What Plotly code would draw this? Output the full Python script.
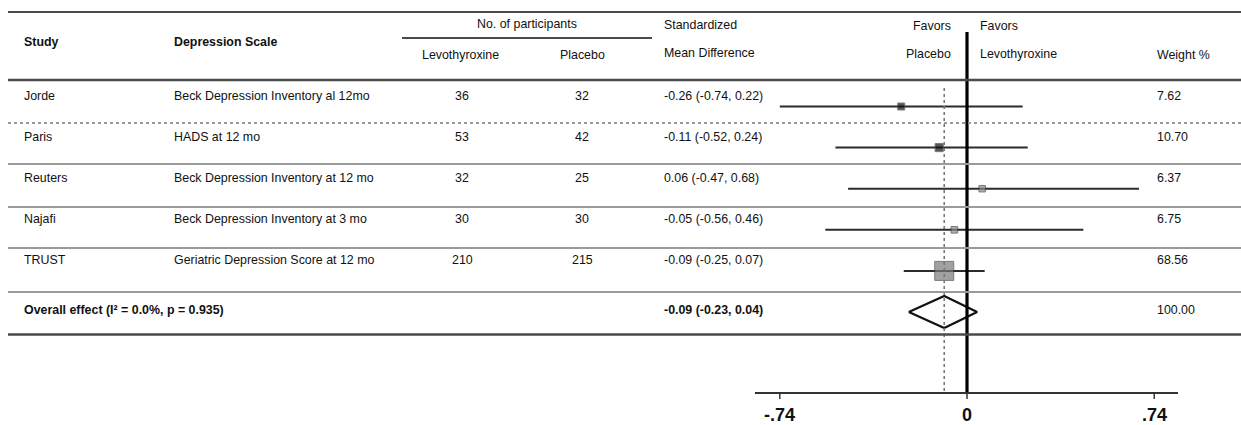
import plotly.graph_objects as go

# ---- study data ----
studies = ["Jorde", "Paris", "Reuters", "Najafi", "TRUST"]
scales = [
    "Beck Depression Inventory al 12mo",
    "HADS at 12 mo",
    "Beck Depression Inventory at 12 mo",
    "Beck Depression Inventory at 3 mo",
    "Geriatric Depression Score at 12 mo",
]
n_levo = [36, 53, 32, 30, 210]
n_placebo = [32, 42, 25, 30, 215]
smd = [-0.26, -0.11, 0.06, -0.05, -0.09]
ci_low = [-0.74, -0.52, -0.47, -0.56, -0.25]
ci_high = [0.22, 0.24, 0.68, 0.46, 0.07]
weights = [7.62, 10.70, 6.37, 6.75, 68.56]
marker_colors = ["#111111", "#111111", "#8a8a8a", "#8a8a8a", "#7a7a7a"]

overall_label = "Overall effect (I² = 0.0%, p = 0.935)"
overall_smd = -0.09
overall_low = -0.23
overall_high = 0.04
overall_weight = 100.00

tick_vals = [-0.74, 0, 0.74]
tick_text = ["-.74", "0", ".74"]

# ---- page geometry ----
W, H = 1241, 425
X0_PX = 967.0          # pixel column of the null line
PX_PER_UNIT = 253.0    # horizontal scale of the effect axis
x_lo = -X0_PX / PX_PER_UNIT
x_hi = (W - X0_PX) / PX_PER_UNIT

ROW0 = 106.5           # vertical centre of first study row (pixels from top)
ROW_STEP = 41.1
def row_y(i):
    return ROW0 + ROW_STEP * i

def px(x):
    return x / W

FONT = "Liberation Sans, Arial, sans-serif"
TXT = "#111111"
FS = 12.4

fig = go.Figure()

# confidence intervals
for i in range(len(studies)):
    fig.add_trace(go.Scatter(
        x=[ci_low[i], ci_high[i]], y=[row_y(i), row_y(i)],
        mode="lines", line=dict(color="#2b2b2b", width=2),
        hoverinfo="skip", showlegend=False))

# point estimates, box size scaled by weight
max_w = max(weights)
sizes = [18 * (w / max_w) ** 0.5 + 1 for w in weights]
fig.add_trace(go.Scatter(
    x=smd, y=[row_y(i) for i in range(len(studies))],
    mode="markers",
    marker=dict(symbol="square", size=sizes, color=marker_colors,
                line=dict(color="#444444", width=1)),
    hoverinfo="skip", showlegend=False))

# pooled diamond
yo = row_y(len(studies))
half_h = 16
fig.add_trace(go.Scatter(
    x=[overall_low, overall_smd, overall_high, overall_smd, overall_low],
    y=[yo, yo - half_h, yo, yo + half_h, yo],
    mode="lines", line=dict(color="#111111", width=2.2),
    hoverinfo="skip", showlegend=False))

# pooled estimate reference line
fig.add_trace(go.Scatter(
    x=[overall_smd, overall_smd], y=[88, 393],
    mode="lines", line=dict(color="#777777", width=1.6, dash="dot"),
    hoverinfo="skip", showlegend=False))

# null line
fig.add_trace(go.Scatter(
    x=[0, 0], y=[32, 393],
    mode="lines", line=dict(color="#000000", width=3.2),
    hoverinfo="skip", showlegend=False))

# effect axis with ticks
fig.add_trace(go.Scatter(
    x=[x_lo + 755 / PX_PER_UNIT, x_lo + 1178 / PX_PER_UNIT], y=[393, 393],
    mode="lines", line=dict(color="#333333", width=2),
    hoverinfo="skip", showlegend=False))
for tv in tick_vals:
    fig.add_trace(go.Scatter(
        x=[tv, tv], y=[393, 399],
        mode="lines", line=dict(color="#333333", width=1.5),
        hoverinfo="skip", showlegend=False))

shapes = []
def hline(y, x0, x1, color, width, dash="solid"):
    shapes.append(dict(type="line", xref="paper", yref="y",
                       x0=px(x0), x1=px(x1), y0=y, y1=y,
                       line=dict(color=color, width=width, dash=dash)))

# table rules
hline(12, 8, W, "#4a4a4a", 2.2)
hline(38, 402, 652, "#4a4a4a", 2)
hline(80, 8, W, "#4a4a4a", 2.5)
sep_y = [123, 164, 207, 248, 292]
for k, sy in enumerate(sep_y):
    if k == 0:
        hline(sy, 8, W, "#9a9a9a", 1.8, "dot")
    else:
        hline(sy, 8, W, "#9a9a9a", 1.8)
hline(334.5, 8, W, "#4a4a4a", 2.5)

ann = []
def text(x, y, s, anchor="left", size=FS, bold=False, color=TXT):
    ann.append(dict(xref="paper", yref="y", x=px(x), y=y,
                    text=f"<b>{s}</b>" if bold else s,
                    showarrow=False, xanchor=anchor, yanchor="middle",
                    font=dict(family=FONT, size=size, color=color)))

# header
text(22, 42, "Study", bold=True)
text(172, 42, "Depression Scale", bold=True)
text(527, 24, "No. of participants", anchor="center")
text(460, 55, "Levothyroxine", anchor="center")
text(582, 55, "Placebo", anchor="center")
text(662, 25, "Standardized")
text(662, 53, "Mean Difference")
text(953, 26, "Favors", anchor="right")
text(953, 54, "Placebo", anchor="right")
text(978, 26, "Favors")
text(978, 54, "Levothyroxine")
text(1155, 55, "Weight %")

# study rows
for i, s in enumerate(studies):
    ty = row_y(i) - 11
    text(22, ty, s)
    text(172, ty, scales[i])
    text(462, ty, str(n_levo[i]), anchor="center")
    text(582, ty, str(n_placebo[i]), anchor="center")
    text(662, ty, f"{smd[i]:.2f} ({ci_low[i]:.2f}, {ci_high[i]:.2f})")
    text(1155, ty, f"{weights[i]:.2f}")

# pooled row
oy = yo - 2
text(22, oy, overall_label, bold=True)
text(662, oy, f"{overall_smd:.2f} ({overall_low:.2f}, {overall_high:.2f})", bold=True)
text(1155, oy, f"{overall_weight:.2f}")

# effect axis labels
for tv, tt in zip(tick_vals, tick_text):
    ann.append(dict(xref="x", yref="y", x=tv, y=415, text=f"<b>{tt}</b>",
                    showarrow=False, xanchor="center", yanchor="middle",
                    font=dict(family=FONT, size=18, color="#111111")))

fig.update_layout(
    width=W, height=H,
    margin=dict(l=0, r=0, t=0, b=0),
    paper_bgcolor="white", plot_bgcolor="white",
    xaxis=dict(range=[x_lo, x_hi], visible=False, fixedrange=True),
    yaxis=dict(range=[H, 0], visible=False, fixedrange=True),
    shapes=shapes, annotations=ann, showlegend=False,
)

fig.write_html("out.html")
